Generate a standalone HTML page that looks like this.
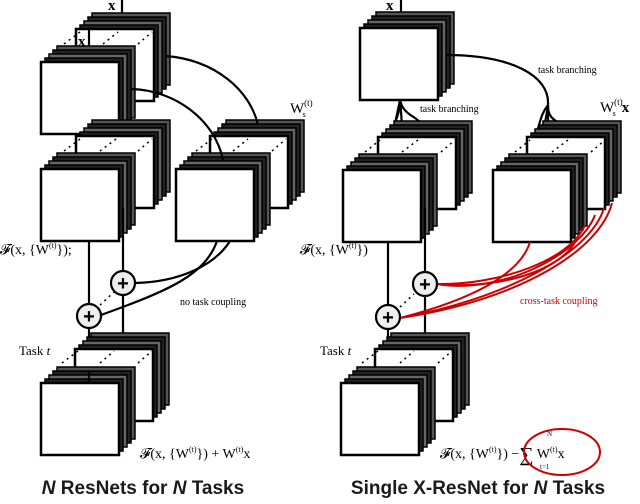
<!DOCTYPE html>
<html><head><meta charset="utf-8"><style>
html,body{margin:0;padding:0;background:#fff;}
svg{display:block;}
.t{font-family:"Liberation Serif",serif;fill:#000;}
.c{font-family:"Liberation Sans",sans-serif;font-weight:bold;font-size:19px;fill:#1a1a1a;}
</style></head><body>
<svg width="640" height="504" viewBox="0 0 640 504" xmlns="http://www.w3.org/2000/svg">
<defs>
<g id="s">
<rect x="16" y="-16" width="78" height="72" fill="#555" stroke="#000" stroke-width="1.5"/>
<rect x="12" y="-12" width="78" height="72" fill="#222" stroke="#000" stroke-width="1.5"/>
<rect x="8" y="-8" width="78" height="72" fill="#666" stroke="#000" stroke-width="1.5"/>
<rect x="4" y="-4" width="78" height="72" fill="#222" stroke="#000" stroke-width="1.5"/>
<rect x="0" y="0" width="78" height="72" fill="#fff" stroke="#000" stroke-width="2.5"/>
</g>
</defs>
<g fill="none" stroke="#000" stroke-width="2.2">
<line x1="122" y1="0" x2="122" y2="15"/>
<use href="#s" x="76" y="29"/>
<line x1="89" y1="30" x2="89" y2="50"/>
<use href="#s" x="41" y="62"/>
<line x1="77" y1="133" x2="77" y2="140"/><line x1="89" y1="133" x2="89" y2="168"/>
<use href="#s" x="76" y="136"/>
<use href="#s" x="41" y="169"/>
<use href="#s" x="210" y="136"/>
<use href="#s" x="176" y="169"/>
<path d="M166,56 C215,60 250,90 258,125"/>
<path d="M131,89 C175,90 215,120 223,160"/>
<line x1="89" y1="241" x2="89" y2="372"/>
<line x1="123" y1="208" x2="123" y2="338"/>
<path d="M217,241 C205,275 170,290 101,315"/>
<path d="M230,241 C215,265 180,282 135,283"/>
<use href="#s" x="75" y="349"/>
<use href="#s" x="41" y="383"/>
<line x1="89" y1="372" x2="89" y2="383"/>
<line x1="401" y1="0" x2="401" y2="15"/>
<use href="#s" x="360" y="28"/>
<path d="M446,55 C510,55 550,75 548,105 C548,115 550,120 570,128"/>
<path d="M548,105 C540,115 540,125 535,137"/>
<path d="M548,105 C548,120 548,130 549,145"/>
<path d="M548,105 C545,130 537,150 535,170"/>
<path d="M400,100 C400,115 395,120 390,137"/>
<path d="M400,100 C404,118 420,115 422,128"/>
<path d="M400,100 C402,120 402,130 402,145"/>
<path d="M400,100 C395,125 388,150 388,170"/>
<use href="#s" x="378" y="137"/>
<use href="#s" x="343" y="170"/>
<use href="#s" x="527" y="137"/>
<use href="#s" x="493" y="170"/>
<line x1="388" y1="242" x2="388" y2="372"/>
<line x1="425" y1="208" x2="425" y2="338"/>
<use href="#s" x="375" y="349"/>
<use href="#s" x="341" y="383"/>
</g>
<g fill="none" stroke="#c00" stroke-width="2">
<path d="M612,203 C600,250 520,300 400,318"/>
<path d="M604,208 C590,255 500,300 400,318"/>
<path d="M595,215 C580,255 500,295 437,284"/>
<path d="M585,225 C570,260 500,285 437,284"/>
<path d="M575,242 C560,270 500,290 437,284"/>
<path d="M530,242 C520,275 470,300 400,318"/>
</g>
<g stroke="#000" stroke-width="1.5" stroke-dasharray="2,4" fill="none">
<line x1="64" y1="44" x2="80" y2="32"/><line x1="103" y1="44" x2="118" y2="32"/><line x1="138" y1="44" x2="152" y2="32"/>
<line x1="64" y1="151" x2="80" y2="139"/><line x1="100" y1="151" x2="116" y2="139"/><line x1="138" y1="151" x2="152" y2="139"/>
<line x1="196" y1="151" x2="212" y2="139"/><line x1="233" y1="151" x2="248" y2="139"/><line x1="272" y1="151" x2="286" y2="139"/>
<line x1="62" y1="363" x2="78" y2="351"/><line x1="100" y1="363" x2="114" y2="351"/><line x1="138" y1="363" x2="152" y2="351"/>
<line x1="100" y1="305" x2="114" y2="292"/>
<line x1="365" y1="152" x2="380" y2="140"/><line x1="402" y1="152" x2="418" y2="140"/><line x1="441" y1="152" x2="455" y2="140"/>
<line x1="515" y1="152" x2="530" y2="140"/><line x1="552" y1="152" x2="568" y2="140"/><line x1="591" y1="152" x2="605" y2="140"/>
<line x1="362" y1="363" x2="378" y2="351"/><line x1="400" y1="363" x2="414" y2="351"/><line x1="438" y1="363" x2="452" y2="351"/>
<line x1="400" y1="307" x2="414" y2="294"/>
</g>
<g stroke="#000" stroke-width="2.2" fill="#eee">
<circle cx="123" cy="283" r="12"/><circle cx="89" cy="316" r="12"/>
<circle cx="425" cy="284" r="12"/><circle cx="388" cy="317" r="12"/>
</g>
<g fill="#000" font-family="Liberation Sans,sans-serif" font-size="20" font-weight="bold" text-anchor="middle">
<text x="123" y="290">+</text><text x="89" y="323">+</text>
<text x="425" y="291">+</text><text x="388" y="324">+</text>
</g>
<text class="t" x="108" y="10" font-size="15" font-weight="bold">x</text>
<text class="t" x="78" y="46" font-size="15" font-weight="bold">x</text>
<text class="t" x="386" y="10" font-size="15" font-weight="bold">x</text>
<text class="t" x="290" y="113" font-size="15">W<tspan font-size="9" dy="-7">(t)</tspan><tspan font-size="8" dx="-10" dy="11">s</tspan></text>
<text class="t" x="600" y="112" font-size="15">W<tspan font-size="9" dy="-7">(t)</tspan><tspan font-size="8" dx="-10" dy="11">s</tspan><tspan dx="6" dy="-4" font-weight="bold">x</tspan></text>
<text class="t" x="0" y="254" font-size="14">𝓕(x, {W<tspan font-size="8" dy="-6">(t)</tspan><tspan dy="6">});</tspan></text>
<text class="t" x="300" y="254" font-size="14">𝓕(x, {W<tspan font-size="8" dy="-6">(t)</tspan><tspan dy="6">})</tspan></text>
<text class="t" x="180" y="305" font-size="10" fill="#333">no task coupling</text>
<text class="t" x="520" y="304" font-size="10" style="fill:#c00">cross-task coupling</text>
<text class="t" x="538" y="73" font-size="10" fill="#333">task branching</text>
<text class="t" x="420" y="112" font-size="10" fill="#333">task branching</text>
<text class="t" x="19" y="355" font-size="13">Task <tspan font-style="italic">t</tspan></text>
<text class="t" x="320" y="355" font-size="13">Task <tspan font-style="italic">t</tspan></text>
<text class="t" x="140" y="458" font-size="14">𝓕(x, {W<tspan font-size="8" dy="-6">(t)</tspan><tspan dy="6">}) + W</tspan><tspan font-size="8" dy="-6">(t)</tspan><tspan dy="6">x</tspan></text>
<text class="t" x="440" y="458" font-size="14">𝓕(x, {W<tspan font-size="8" dy="-6">(t)</tspan><tspan dy="6">}) −</tspan><tspan font-size="20" dy="3">∑</tspan><tspan dy="-3"> W</tspan><tspan font-size="8" dy="-6">(t)</tspan><tspan dy="6">x</tspan></text>
<text class="t" x="547" y="436" font-size="7">N</text>
<text class="t" x="540" y="469" font-size="7">t=1</text>
<ellipse cx="562" cy="452" rx="38" ry="23" fill="none" stroke="#c00" stroke-width="2"/>
<text class="c" x="143" y="494" text-anchor="middle"><tspan font-style="italic">N</tspan> ResNets for <tspan font-style="italic">N</tspan> Tasks</text>
<text class="c" x="478" y="494" text-anchor="middle">Single X-ResNet for <tspan font-style="italic">N</tspan> Tasks</text>
</svg>
</body></html>
